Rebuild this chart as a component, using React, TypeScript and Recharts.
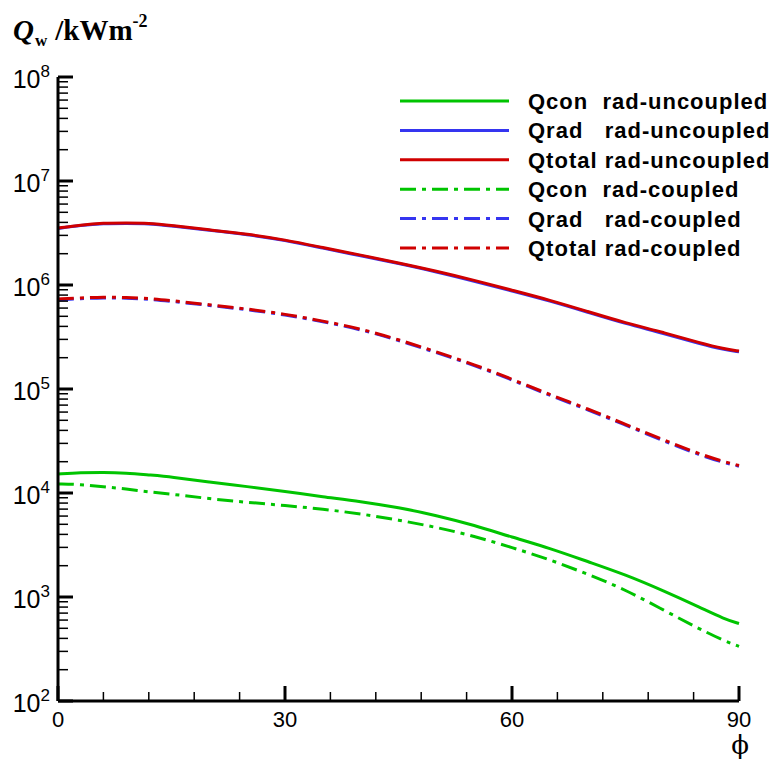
import { LineChart, Line, XAxis, YAxis } from 'recharts';

const phi = [0, 3, 6, 9, 12, 15, 20, 25, 30, 35, 40, 45, 50, 55, 60, 65, 70, 75, 80, 85, 88, 90];

const qconUncoupled = [15240, 15670, 15850, 15600, 14900, 14280, 12740, 11530, 10350, 9200, 8300, 7250, 6100, 4900, 3760, 2950, 2190, 1640, 1150, 785, 617, 556];
const qradUncoupled = [3.5e6, 3.74e6, 3.9e6, 3.91e6, 3.9e6, 3.69e6, 3.36e6, 3.06e6, 2.69e6, 2.26e6, 1.91e6, 1.61e6, 1.34e6, 1.09e6, 8.76e5, 7.04e5, 5.47e5, 4.24e5, 3.44e5, 2.7e5, 2.39e5, 2.28e5];
const qtotalUncoupled = [3.53e6, 3.78e6, 3.94e6, 3.95e6, 3.94e6, 3.73e6, 3.39e6, 3.09e6, 2.72e6, 2.29e6, 1.94e6, 1.63e6, 1.36e6, 1.11e6, 8.91e5, 7.16e5, 5.56e5, 4.32e5, 3.51e5, 2.75e5, 2.43e5, 2.32e5];
const qconCoupled = [12220, 12110, 11480, 10960, 10230, 9770, 8810, 8130, 7590, 7000, 6310, 5500, 4680, 3850, 2990, 2290, 1660, 1175, 750, 484, 380, 335];
const qradCoupled = [7.2e5, 7.38e5, 7.55e5, 7.47e5, 7.33e5, 6.96e5, 6.36e5, 5.8e5, 5.17e5, 4.44e5, 3.74e5, 2.94e5, 2.24e5, 1.69e5, 1.225e5, 8.66e4, 6.35e4, 4.49e4, 3.18e4, 2.29e4, 1.96e4, 1.81e4];
const qtotalCoupled = [7.33e5, 7.5e5, 7.67e5, 7.59e5, 7.45e5, 7.08e5, 6.46e5, 5.89e5, 5.25e5, 4.51e5, 3.8e5, 2.99e5, 2.28e5, 1.72e5, 1.245e5, 8.81e4, 6.46e4, 4.57e4, 3.24e4, 2.34e4, 2.0e4, 1.84e4];

const xTicks = [0, 6, 12, 18, 24, 30, 36, 42, 48, 54, 60, 66, 72, 78, 84, 90];
const xLabels = [0, 30, 60, 90];
const yExponents = [2, 3, 4, 5, 6, 7, 8];
const yMinorSteps = [2, 3, 4, 5, 6, 7, 8, 9];

const GREEN = '#00c400';
const BLUE = '#3535f0';
const RED = '#d00000';
const DASHDOT = '16 6 4 6';
const SANS = '"Liberation Sans", Arial, sans-serif';

const data = phi.map((p, i) => ({
  phi: p,
  qconU: qconUncoupled[i],
  qradU: qradUncoupled[i],
  qtotalU: qtotalUncoupled[i],
  qconC: qconCoupled[i],
  qradC: qradCoupled[i],
  qtotalC: qtotalCoupled[i],
}));

const series = [
  { key: 'qconU', name: 'Qcon  rad-uncoupled', color: GREEN, dash: undefined },
  { key: 'qradU', name: 'Qrad   rad-uncoupled', color: BLUE, dash: undefined },
  { key: 'qtotalU', name: 'Qtotal rad-uncoupled', color: RED, dash: undefined },
  { key: 'qconC', name: 'Qcon  rad-coupled', color: GREEN, dash: DASHDOT },
  { key: 'qradC', name: 'Qrad   rad-coupled', color: BLUE, dash: DASHDOT },
  { key: 'qtotalC', name: 'Qtotal rad-coupled', color: RED, dash: DASHDOT },
];

const yTicks: number[] = [];
yExponents.forEach((e) => {
  yTicks.push(Math.pow(10, e));
  if (e < 8) yMinorSteps.forEach((m) => yTicks.push(m * Math.pow(10, e)));
});

function YTick(props: any) {
  const { x, y, payload } = props;
  const v = payload.value;
  const exp = Math.round(Math.log10(v));
  const major = Math.abs(v - Math.pow(10, exp)) < 1e-6 * v;
  return (
    <g>
      <line x1={x} x2={x + (major ? 15 : 10)} y1={y} y2={y} stroke="#000" strokeWidth={major ? 3 : 1.5} />
      {major && (
        <text x={x - 8} y={y + 11} textAnchor="end" fontFamily={SANS} fontSize={25} fill="#000">
          10<tspan dy={-11} fontSize={17}>{exp}</tspan>
        </text>
      )}
    </g>
  );
}

function XTick(props: any) {
  const { x, y, payload } = props;
  const v = payload.value;
  const major = xLabels.includes(v);
  return (
    <g>
      <line x1={x} x2={x} y1={y} y2={y - (major ? 15 : 9)} stroke="#000" strokeWidth={major ? 3 : 1.5} />
      {major && (
        <text x={x} y={y + 26} textAnchor="middle" fontFamily={SANS} fontSize={22} fill="#000">
          {v}
        </text>
      )}
    </g>
  );
}

export default function App() {
  return (
    <div style={{ position: 'absolute', left: 0, top: 0, width: 773, height: 764, background: '#fff' }}>
      <LineChart width={773} height={764} data={data} margin={{ top: 77, right: 34, bottom: 0, left: 0 }}>
        <XAxis
          dataKey="phi"
          type="number"
          domain={[0, 90]}
          ticks={xTicks}
          interval={0}
          height={63}
          tickSize={0}
          tickMargin={0}
          tickLine={false}
          axisLine={{ stroke: '#000', strokeWidth: 3 }}
          tick={<XTick />}
        />
        <YAxis
          type="number"
          scale="log"
          domain={[100, 1e8]}
          allowDataOverflow
          ticks={yTicks}
          interval={0}
          width={58}
          tickSize={0}
          tickMargin={0}
          tickLine={false}
          axisLine={{ stroke: '#000', strokeWidth: 3 }}
          tick={<YTick />}
        />
        {series.map((s) => (
          <Line
            key={s.key}
            dataKey={s.key}
            name={s.name}
            type="basis"
            stroke={s.color}
            strokeWidth={3}
            strokeDasharray={s.dash}
            dot={false}
            isAnimationActive={false}
          />
        ))}
      </LineChart>
      <svg width={773} height={764} style={{ position: 'absolute', left: 0, top: 0, pointerEvents: 'none' }}>
        <text x={13} y={40} fontFamily='"Liberation Serif", "Times New Roman", serif' fontWeight="bold" fontSize={29} fill="#000">
          <tspan fontStyle="italic">Q</tspan>
          <tspan fontSize={17} dy={6} dx={1}>w</tspan>
          <tspan dy={-6} dx={8}>/kWm</tspan>
          <tspan fontSize={18} dy={-13}>-2</tspan>
        </text>
        <text x={740} y={754} textAnchor="middle" fontFamily='"DejaVu Serif", serif' fontSize={26} fill="#000">ϕ</text>
        {series.map((s, i) => {
          const y = 101 + i * 29.4;
          return (
            <g key={s.key}>
              <line x1={400} x2={509} y1={y} y2={y} stroke={s.color} strokeWidth={3} strokeDasharray={s.dash} />
              <text x={528} y={y + 8} fontFamily={SANS} fontWeight="bold" fontSize={22} letterSpacing={1} fill="#000" style={{ whiteSpace: 'pre' }}>
                {s.name}
              </text>
            </g>
          );
        })}
      </svg>
    </div>
  );
}
